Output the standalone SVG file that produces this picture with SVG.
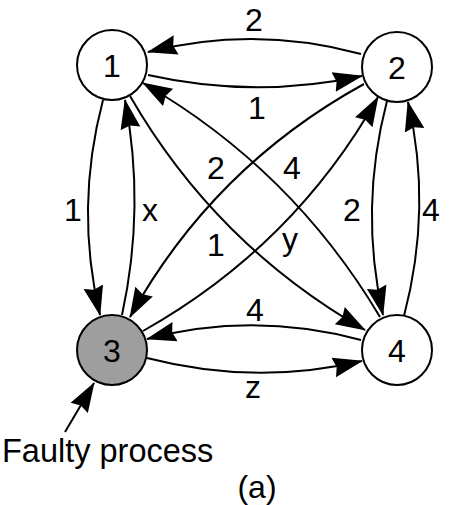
<svg xmlns="http://www.w3.org/2000/svg" width="459" height="505" viewBox="0 0 459 505">
<style>
.n{fill:#fff;stroke:#000;stroke-width:2}
.f{fill:#9e9e9e}
.t{font-family:"Liberation Sans",Arial,sans-serif;font-size:32px;fill:#000;text-anchor:middle}
.e{fill:none;stroke:#000;stroke-width:2;marker-end:url(#ah)}
</style>
<defs>
<marker id="ah" markerUnits="userSpaceOnUse" markerWidth="32" markerHeight="24" refX="29" refY="12" orient="auto">
<path d="M0,2 L30,12 L0,22 L3,12 z" fill="#000"/>
</marker>
</defs>
<rect width="459" height="505" fill="#fff"/>
<g id="connectors">
<path class="e" d="M361,54 Q255,25 148,52"/>
<path class="e" d="M148,75 Q255,99 362,76"/>
<path class="e" d="M103,100 Q74.5,208 100,315"/>
<path class="e" d="M122,315 Q145.5,207 125,100"/>
<path class="e" d="M387,101 Q359,208 383,315"/>
<path class="e" d="M404,316 Q432.5,207 408,102"/>
<path class="e" d="M361,340 Q253,311 147,339"/>
<path class="e" d="M147,358 Q255,386 362,361"/>
<path class="e" d="M130,96 Q216,245 365,330"/>
<path class="e" d="M380,317 Q292,169 143,83"/>
<path class="e" d="M364,84 Q213,167 130,317"/>
<path class="e" d="M143,331 Q294,246 378,97"/>
<path class="e" d="M65,432 L94,383"/>
</g>
<g id="edge-labels">
<text class="t" x="254" y="31">2</text>
<text class="t" x="257" y="119">1</text>
<text class="t" x="73" y="221">1</text>
<text class="t" x="150" y="221">x</text>
<text class="t" x="352" y="221">2</text>
<text class="t" x="431" y="221">4</text>
<text class="t" x="216" y="179">2</text>
<text class="t" x="292" y="179">4</text>
<text class="t" x="216" y="256">1</text>
<text class="t" x="290" y="250">y</text>
<text class="t" x="255" y="321">4</text>
<text class="t" x="253" y="398">z</text>
</g>
<g id="node1"><circle class="n" cx="112" cy="65" r="35"/><text class="t" x="112" y="77">1</text></g>
<g id="node2"><circle class="n" cx="397" cy="67" r="35"/><text class="t" x="397" y="79">2</text></g>
<g id="node3"><circle class="n f" cx="112" cy="350" r="35"/><text class="t" x="112" y="362">3</text></g>
<g id="node4"><circle class="n" cx="397" cy="350" r="35"/><text class="t" x="397" y="362">4</text></g>
<g id="faulty-label"><text class="t" x="2" y="462" style="text-anchor:start;font-size:32.5px">Faulty process</text></g>
<g id="caption"><text class="t" x="257" y="498" style="font-size:32px">(a)</text></g>
</svg>
